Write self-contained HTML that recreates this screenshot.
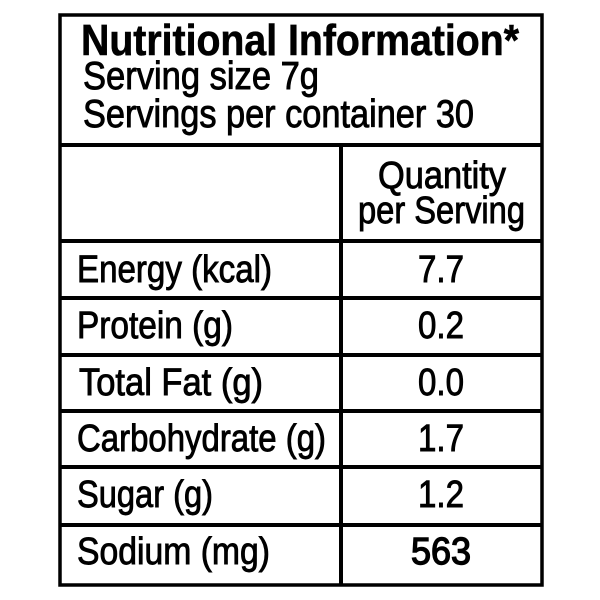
<!DOCTYPE html>
<html><head><meta charset="utf-8"><style>
html,body{margin:0;padding:0;background:#fff;}
svg{display:block;}
text{font-family:"Liberation Sans",sans-serif;fill:#000;stroke:#000;stroke-width:0.9;}
</style></head><body>
<svg width="600" height="600" viewBox="0 0 600 600">
<rect x="60" y="15" width="482" height="570" fill="none" stroke="#000" stroke-width="3.5"/>
<line x1="60" y1="145" x2="542" y2="145" stroke="#000" stroke-width="4"/>
<line x1="341" y1="145" x2="341" y2="585" stroke="#000" stroke-width="4"/>
<g stroke="#000" stroke-width="4">
<line x1="60" y1="241" x2="542" y2="241"/>
<line x1="60" y1="298" x2="542" y2="298"/>
<line x1="60" y1="355" x2="542" y2="355"/>
<line x1="60" y1="411" x2="542" y2="411"/>
<line x1="60" y1="467" x2="542" y2="467"/>
<line x1="60" y1="525" x2="542" y2="525"/>
</g>
<text x="81" y="55" font-size="44" font-weight="bold" style="stroke-width:0.6" textLength="438" lengthAdjust="spacingAndGlyphs">Nutritional Information*</text>
<text x="83" y="89" font-size="39" textLength="236" lengthAdjust="spacingAndGlyphs">Serving size 7g</text>
<text x="83" y="127" font-size="39" textLength="391" lengthAdjust="spacingAndGlyphs">Servings per container 30</text>
<text x="378" y="188" font-size="38" textLength="128" lengthAdjust="spacingAndGlyphs">Quantity</text>
<text x="358" y="223" font-size="38" textLength="167" lengthAdjust="spacingAndGlyphs">per Serving</text>
<g font-size="38">
<text x="77" y="282" textLength="195" lengthAdjust="spacingAndGlyphs">Energy (kcal)</text>
<text x="77" y="338" textLength="156" lengthAdjust="spacingAndGlyphs">Protein (g)</text>
<text x="79" y="395" textLength="184" lengthAdjust="spacingAndGlyphs">Total Fat (g)</text>
<text x="77" y="451" textLength="249" lengthAdjust="spacingAndGlyphs">Carbohydrate (g)</text>
<text x="77" y="507" textLength="136" lengthAdjust="spacingAndGlyphs">Sugar (g)</text>
<text x="77" y="564" textLength="193" lengthAdjust="spacingAndGlyphs">Sodium (mg)</text>
</g>
<g font-size="38" text-anchor="middle">
<text x="441" y="282" textLength="46" lengthAdjust="spacingAndGlyphs">7.7</text>
<text x="441" y="338" textLength="46" lengthAdjust="spacingAndGlyphs">0.2</text>
<text x="441" y="395" textLength="46" lengthAdjust="spacingAndGlyphs">0.0</text>
<text x="441" y="451" textLength="46" lengthAdjust="spacingAndGlyphs">1.7</text>
<text x="441" y="507" textLength="46" lengthAdjust="spacingAndGlyphs">1.2</text>
<text x="441" y="564" style="stroke-width:1.4" textLength="60" lengthAdjust="spacingAndGlyphs">563</text>
</g>
</svg>
</body></html>
